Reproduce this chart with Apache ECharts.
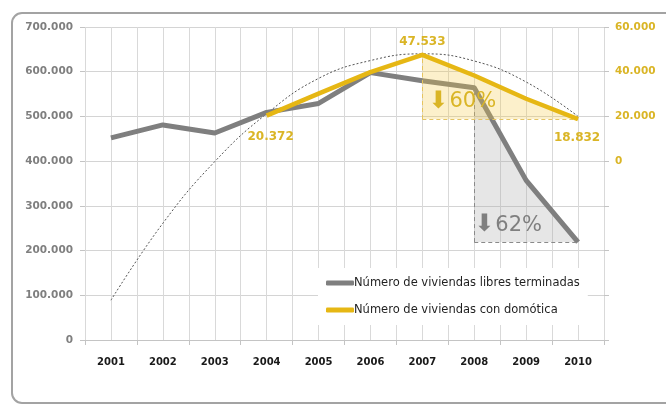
<!DOCTYPE html>
<html>
<head>
<meta charset="utf-8">
<script src="https://cdn.jsdelivr.net/npm/echarts@6/dist/echarts.min.js"></script>
<style>
  html, body { margin: 0; padding: 0; background: #fff; }
  #chart { width: 666px; height: 405px; }
</style>
</head>
<body>
<div id="chart"></div>
<script>
// Years on the category axis
const years = ['2001', '2002', '2003', '2004', '2005', '2006', '2007', '2008', '2009', '2010'];

// Free-market dwellings completed (left axis)
const viviendasLibres = [452000, 481000, 463000, 509000, 529000, 598000, 580000, 564000, 357000, 219000];

// Dwellings with home automation (right axis)
const viviendasDomotica = [null, null, null, 20372, 30200, 39800, 47533, 38300, 27900, 18832];

// Dotted polynomial trend curve (left axis)
const tendencia = [89000, 261000, 399000, 506000, 585000, 625000, 640000, 624000, 577000, 500000];

// Years whose value is printed next to the yellow line
const yearsWithLabel = ['2004', '2007', '2010'];

// Drop highlights: start year, end year, percentage text
const dropDomotica = { from: '2007', to: '2010', text: '60%' };
const dropLibres = { from: '2008', to: '2010', text: '62%' };

const leftTicks = { min: 0, max: 700000, interval: 100000 };
const rightTicks = { min: -80000, max: 60000, interval: 20000 };

const GRAY = '#7f7f7f';
const GOLD = '#e6b714';
const GOLD_TEXT = '#dab526';
const FONT = 'DejaVu Sans';

function fmt(v) {
  return String(Math.round(v)).replace(/\B(?=(\d{3})+(?!\d))/g, '.');
}

// Build stacked base/top pairs that fill the area between a line and the level of its last point
function dropFill(values, from, to) {
  const i0 = years.indexOf(from), i1 = years.indexOf(to);
  const level = values[i1];
  const base = values.map((v, i) => (i >= i0 && i <= i1 ? level : '-'));
  const top = values.map((v, i) => (i >= i0 && i <= i1 ? v - level : '-'));
  return { i0, i1, level, peak: values[i0], base, top };
}

const fillDom = dropFill(viviendasDomotica, dropDomotica.from, dropDomotica.to);
const fillLib = dropFill(viviendasLibres, dropLibres.from, dropLibres.to);

const labelPlacement = {
  '2004': { position: 'bottom', distance: 15, offset: [4, 0] },
  '2007': { position: 'top', distance: 7, offset: [0, 0] },
  '2010': { position: 'bottom', distance: 13, offset: [-1, 0] }
};

const domoticaData = viviendasDomotica.map((v, i) => {
  const y = years[i];
  if (v == null) return '-';
  if (yearsWithLabel.indexOf(y) >= 0) {
    return {
      value: v,
      label: Object.assign({
        show: true,
        formatter: p => fmt(p.value),
        color: GOLD_TEXT,
        fontFamily: FONT,
        fontWeight: 'bold',
        fontSize: 12
      }, labelPlacement[y])
    };
  }
  return v;
});

const chart = echarts.init(document.getElementById('chart'), null, { renderer: 'canvas' });

const invisibleLine = { opacity: 0, width: 0 };

chart.setOption({
  animation: false,
  backgroundColor: '#ffffff',
  grid: { left: 85, right: 62, top: 27, bottom: 65, containLabel: false },
  legend: {
    orient: 'vertical',
    left: 318,
    top: 268,
    padding: [8, 8, 8, 8],
    itemGap: 13,
    itemWidth: 28,
    itemHeight: 5,
    icon: 'roundRect',
    backgroundColor: '#ffffff',
    textStyle: { fontFamily: FONT, fontSize: 11.5, color: '#1f1f1f', padding: [0, 0, 0, -5], lineHeight: 14 },
    data: ['Número de viviendas libres terminadas', 'Número de viviendas con domótica']
  },
  xAxis: [
    {
      type: 'category',
      data: years,
      boundaryGap: true,
      axisLine: { show: true, lineStyle: { color: '#c4c4c4', width: 1 } },
      axisTick: { show: true, length: 5, lineStyle: { color: '#c4c4c4' } },
      axisLabel: { color: '#1a1a1a', fontFamily: FONT, fontWeight: 'bold', fontSize: 10, margin: 17 },
      splitLine: { show: false }
    },
    {
      // helper axis: vertical grid at every category centre and boundary
      type: 'value',
      min: 0, max: 20, interval: 1,
      show: true,
      axisLine: { show: false }, axisTick: { show: false }, axisLabel: { show: false },
      splitLine: { show: true, lineStyle: { color: '#d9d9d9', width: 1 } }
    }
  ],
  yAxis: [
    {
      type: 'value',
      min: leftTicks.min, max: leftTicks.max, interval: leftTicks.interval,
      axisLine: { show: false },
      axisTick: { show: true, length: 5, lineStyle: { color: '#c4c4c4' } },
      axisLabel: { color: GRAY, fontFamily: FONT, fontWeight: 'bold', fontSize: 10.5, margin: 12, formatter: v => fmt(v) },
      splitLine: { show: true, lineStyle: { color: '#d4d4d4', width: 1 } }
    },
    {
      type: 'value',
      position: 'right',
      min: rightTicks.min, max: rightTicks.max, interval: rightTicks.interval,
      axisLine: { show: false },
      axisTick: { show: true, length: 5, lineStyle: { color: '#c4c4c4' } },
      axisLabel: { color: GOLD_TEXT, fontFamily: FONT, fontWeight: 'bold', fontSize: 10.5, margin: 11,
        formatter: v => (v < 0 ? '' : fmt(v)) },
      splitLine: { show: false }
    }
  ],
  series: [
    // grey drop area (base + fill)
    {
      type: 'line', stack: 'libresDrop', yAxisIndex: 0, data: fillLib.base,
      symbol: 'none', lineStyle: invisibleLine, silent: true, z: 1
    },
    {
      type: 'line', stack: 'libresDrop', yAxisIndex: 0, data: fillLib.top,
      symbol: 'none', lineStyle: invisibleLine, silent: true, z: 1,
      areaStyle: { color: 'rgba(165,165,165,0.4)', origin: 'start' },
      markLine: {
        silent: true, symbol: 'none', label: { show: false },
        lineStyle: { color: '#8a8a8a', type: [4, 3], width: 1 },
        data: [
          [{ coord: [fillLib.i0, fillLib.level] }, { coord: [fillLib.i0, fillLib.peak] }],
          [{ coord: [fillLib.i0, fillLib.level] }, { coord: [fillLib.i1, fillLib.level] }]
        ]
      }
    },
    // trend curve
    {
      type: 'line', yAxisIndex: 0, data: tendencia, smooth: 0.45,
      symbol: 'none', silent: true, z: 3,
      lineStyle: { color: '#555555', width: 1, type: [2, 2] }
    },
    {
      name: 'Número de viviendas libres terminadas',
      type: 'line', yAxisIndex: 0, data: viviendasLibres,
      symbol: 'none', z: 4,
      itemStyle: { color: GRAY },
      lineStyle: { color: GRAY, width: 5, join: 'round' }
    },
    // yellow drop area (base + fill), laid over the grey line
    {
      type: 'line', stack: 'domDrop', yAxisIndex: 1, data: fillDom.base,
      symbol: 'none', lineStyle: invisibleLine, silent: true, z: 5
    },
    {
      type: 'line', stack: 'domDrop', yAxisIndex: 1, data: fillDom.top,
      symbol: 'none', lineStyle: invisibleLine, silent: true, z: 5,
      areaStyle: { color: 'rgba(245,200,70,0.4)', origin: 'start' },
      markLine: {
        silent: true, symbol: 'none', label: { show: false },
        lineStyle: { color: '#e3c464', type: [4, 3], width: 1 },
        data: [
          [{ coord: [fillDom.i0, fillDom.level] }, { coord: [fillDom.i0, fillDom.peak] }],
          [{ coord: [fillDom.i0, fillDom.level] }, { coord: [fillDom.i1, fillDom.level] }]
        ]
      }
    },
    {
      name: 'Número de viviendas con domótica',
      type: 'line', yAxisIndex: 1, data: domoticaData,
      symbol: 'circle', symbolSize: 0, showSymbol: true, z: 6,
      itemStyle: { color: GOLD },
      lineStyle: { color: GOLD, width: 4.5, join: 'round' }
    }
  ]
});

// Percentage call-outs placed relative to each drop's corner
function callout(fill, axisIdx, text, color, dx, dy) {
  const p = chart.convertToPixel({ xAxisIndex: 0, yAxisIndex: axisIdx }, [fill.i0, fill.level]);
  return {
    type: 'text',
    x: p[0] + dx,
    y: p[1] + dy,
    z: 100,
    style: {
      text: '{a|⬇}{b|' + text + '}',
      verticalAlign: 'bottom',
      rich: {
        a: { fontFamily: FONT, fontSize: 24, fill: color, color: color, padding: [0, 1, 0, 0] },
        b: { fontFamily: FONT, fontSize: 21, fill: color, color: color }
      }
    }
  };
}

chart.setOption({
  graphic: [
    {
      type: 'rect',
      shape: { x: 12, y: 13, width: 700, height: 390, r: 10 },
      style: { fill: 'none', stroke: '#a3a3a3', lineWidth: 2 },
      z: 0, silent: true
    },
    callout(fillDom, 1, dropDomotica.text, GOLD_TEXT, 6, -5),
    callout(fillLib, 0, dropLibres.text, GRAY, 0, -5)
  ]
});
</script>
</body>
</html>
